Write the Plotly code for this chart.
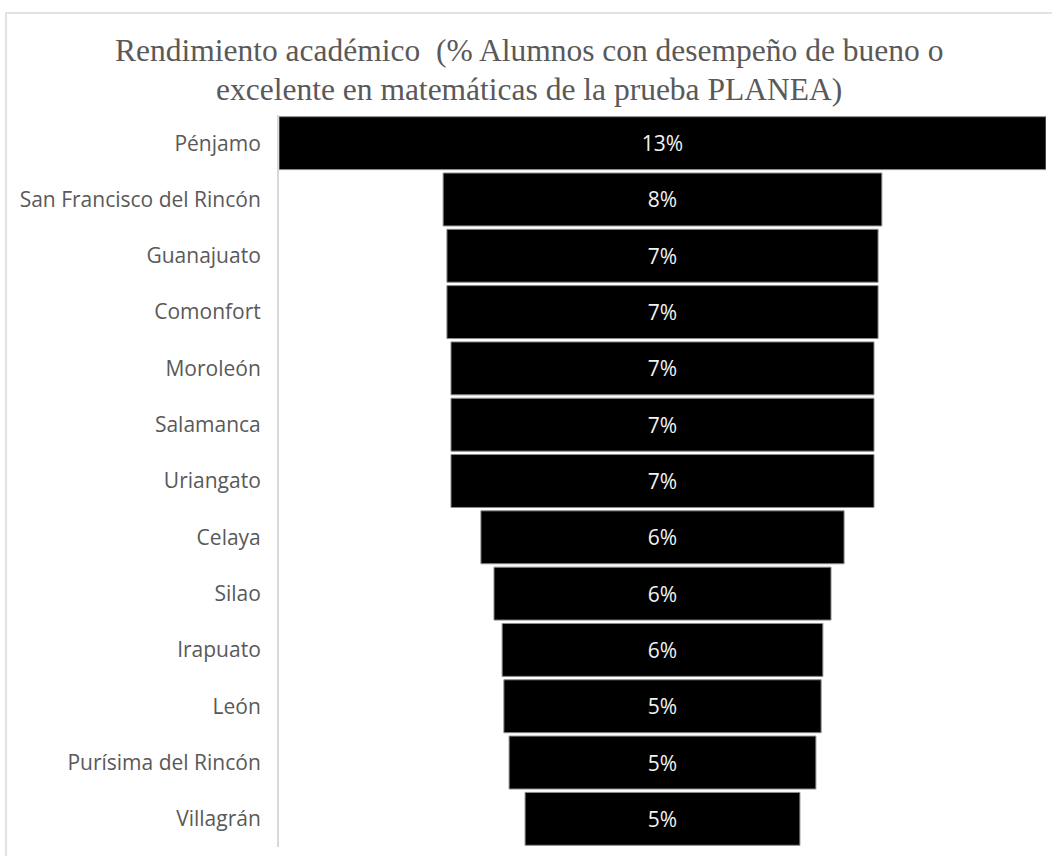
import plotly.graph_objects as go

municipios = ["Pénjamo", "San Francisco del Rincón", "Guanajuato", "Comonfort",
              "Moroleón", "Salamanca", "Uriangato", "Celaya", "Silao", "Irapuato",
              "León", "Purísima del Rincón", "Villagrán"]
porcentaje = [0.132, 0.0755, 0.0742, 0.0742, 0.0728, 0.0728, 0.0728,
              0.0625, 0.0580, 0.0552, 0.0546, 0.0528, 0.0473]

titulo_lineas = ["Rendimiento académico  (% Alumnos con desempeño de bueno o",
                 "excelente en matemáticas de la prueba PLANEA)"]

W, H = 1052, 856
ML, MR, MT, MB = 279, 6, 115, 9
PW, PH = W - ML - MR, H - MT - MB

fig = go.Figure(go.Funnel(
    y=municipios,
    x=porcentaje,
    texttemplate="%{x:.0%}",
    textposition="inside",
    insidetextanchor="middle",
    textfont=dict(family="Open Sans", size=21, color="#f2f2f2"),
    marker=dict(color="#000000", line=dict(color="#8c8c8c", width=1)),
    connector=dict(visible=False),
    hoverinfo="y+x",
))

vmax = max(porcentaje)

def px_x(p):
    return (p - ML) / PW

def px_y(p):
    return (H - MB - p) / PH

annotations = []
for linea, ypx in zip(titulo_lineas, [51, 89]):
    annotations.append(dict(text=linea, xref="paper", yref="paper",
                            x=px_x(529), y=px_y(ypx), xanchor="center", yanchor="middle",
                            showarrow=False,
                            font=dict(family="Liberation Serif", size=31.5, color="#595959")))

fig.update_layout(
    width=W, height=H,
    margin=dict(l=ML, r=MR, t=MT, b=MB),
    paper_bgcolor="white", plot_bgcolor="white",
    funnelgap=0.06,
    showlegend=False,
    annotations=annotations,
    xaxis=dict(visible=False, range=[-vmax / 2, vmax / 2], fixedrange=True),
    yaxis=dict(showline=True, linecolor="#d9d9d9", linewidth=2, showgrid=False,
               ticks="", ticklabelstandoff=12,
               tickfont=dict(family="Open Sans", size=21, color="#595959")),
    shapes=[dict(type="rect", xref="paper", yref="paper",
                 x0=px_x(6), x1=px_x(W + 10), y0=px_y(H + 10), y1=px_y(13),
                 line=dict(color="#d9d9d9", width=1.5), fillcolor="rgba(0,0,0,0)",
                 layer="below")],
)

fig.write_html("out.html")
